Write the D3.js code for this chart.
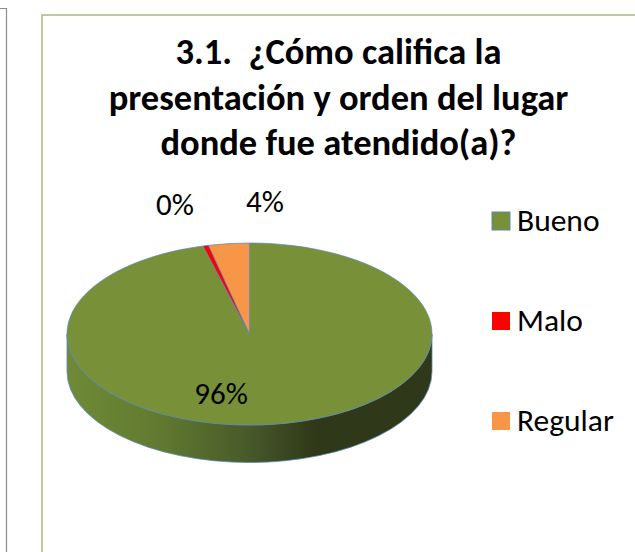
<!DOCTYPE html>
<html><head><meta charset="utf-8">
<style>html,body{margin:0;padding:0;background:#fff}svg{display:block}text{font-family:Carlito,"Open Sans","Noto Sans",sans-serif}</style>
<script src="https://cdn.jsdelivr.net/npm/d3@7"></script></head>
<body><script>
const categories = ["Bueno", "Malo", "Regular"];
const values = [95.9, 0.5, 3.6];
const labels = ["96%", "0%", "4%"];
const colors = ["#789138", "#ff0000", "#f79646"];
const titleLines = ["3.1.  ¿Cómo califica la", "presentación y orden del lugar", "donde fue atendido(a)?"];

const W = 635, H = 552;
const svg = d3.select("body").append("svg").attr("width", W).attr("height", H);
const cx = 249.5, cy = 334, rx = 182.5, ry = 91, depth = 37.5;

// neighbouring panel edge
svg.append("path").attr("d", "M0,8.5H6.5V552").attr("fill", "none").attr("stroke", "#8c8c8c").attr("stroke-width", 1.2);
// chart frame
svg.append("rect").attr("x", 42).attr("y", 15).attr("width", 600).attr("height", 560)
  .attr("fill", "#fff").attr("stroke", "#a6bb78").attr("stroke-width", 1.5);

const grad = svg.append("defs").append("linearGradient").attr("id", "side")
  .attr("gradientUnits", "userSpaceOnUse").attr("x1", cx - rx).attr("x2", cx + rx).attr("y1", 0).attr("y2", 0);
[[0, "#6e8a37"], [0.25, "#627a30"], [0.5, "#47592a"], [0.68, "#2f3818"], [1, "#2f3818"]]
  .forEach(([o, c]) => grad.append("stop").attr("offset", o).attr("stop-color", c));

svg.append("path")
  .attr("d", `M${cx - rx},${cy}A${rx},${ry} 0 0 0 ${cx + rx},${cy}V${cy + depth}A${rx},${ry} 0 0 1 ${cx - rx},${cy + depth}Z`)
  .attr("fill", "url(#side)").attr("stroke", "#5b87b5").attr("stroke-width", 0.8);

const pie = d3.pie().sort(null)(values);
const arc = d3.arc().innerRadius(0).outerRadius(rx);
svg.append("g").attr("transform", `translate(${cx},${cy}) scale(1,${ry / rx})`)
  .selectAll("path").data(pie).join("path")
  .attr("d", arc).attr("fill", (d, i) => colors[i])
  .attr("stroke", "#5b87b5").attr("stroke-width", 0.7).attr("vector-effect", "non-scaling-stroke");

svg.append("g").selectAll("text").data(titleLines).join("text")
  .attr("x", 338.5).attr("y", (d, i) => 64 + i * 45.5).attr("text-anchor", "middle")
  .attr("font-size", 36.5).attr("font-weight", 700).attr("fill", "#000").attr("xml:space", "preserve")
  .style("white-space", "pre").text(d => d);

const labelPos = [[221, 404], [175, 215], [265, 212]];
svg.append("g").selectAll("text").data(labels).join("text")
  .attr("x", (d, i) => labelPos[i][0]).attr("y", (d, i) => labelPos[i][1]).attr("text-anchor", "middle")
  .attr("font-size", 31).attr("fill", "#000").text(d => d);

const leg = svg.append("g").selectAll("g").data(categories).join("g")
  .attr("transform", (d, i) => `translate(0,${221 + i * 100})`);
leg.append("rect").attr("x", 492).attr("y", -9).attr("width", 18).attr("height", 18)
  .attr("fill", (d, i) => colors[i])
  .attr("stroke", (d, i) => i === 0 ? "#5b87b5" : "none");
leg.append("text").attr("x", 517).attr("y", 9.5).attr("font-size", 31.5).attr("fill", "#000").text(d => d);
</script></body></html>
